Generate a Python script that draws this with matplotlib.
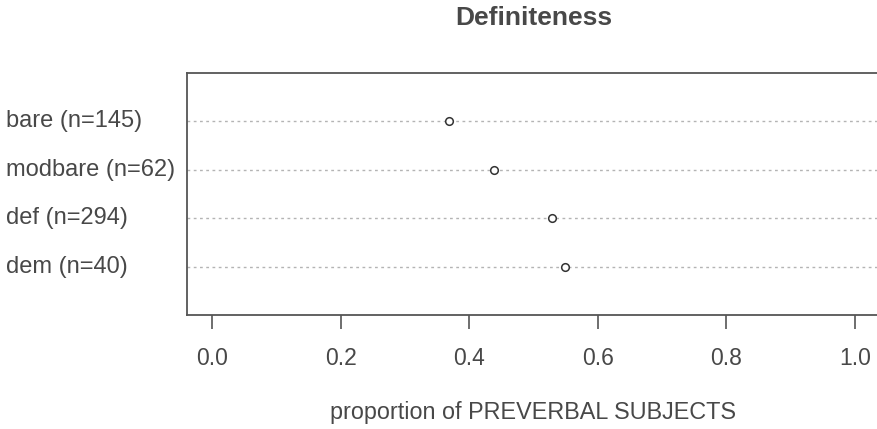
import numpy as np
from matplotlib import pyplot as plt
from matplotlib import transforms

# data (top to bottom)
labels = ["bare (n=145)", "modbare (n=62)", "def (n=294)", "dem (n=40)"]
props = [0.369, 0.439, 0.529, 0.549]
xticks = [0.0, 0.2, 0.4, 0.6, 0.8, 1.0]

plt.rcParams['font.family'] = ['Liberation Sans', 'DejaVu Sans']
txt = '#484848'

fig = plt.figure(figsize=(8.78, 4.29), dpi=100)
ax = fig.add_axes([186.7 / 878, 114 / 429, (880.4 - 186.7) / 878, 242 / 429])

n = len(labels)
ypos = np.arange(n, 0, -1)
for y in ypos:
    ax.axhline(y, color='#b4b4b4', lw=1, ls=(0, (2, 2.5)), zorder=1)
ax.plot(props, ypos, ls='none', marker='o', ms=5.5, mfc='white', mec='#333333', mew=1.1, zorder=3)

ax.set_xlim(-0.04, 1.04)
ax.set_ylim(0, n + 1)
ax.set_yticks([])
ax.set_xticks(xticks)
ax.set_xticklabels(["%.1f" % v for v in xticks])
ax.tick_params(axis='x', length=10, width=1.2, color='#555555', pad=13,
               labelsize=16.5, labelcolor=txt)
for s in ax.spines.values():
    s.set_color('#555555')
    s.set_linewidth(1.3)
ax.spines['right'].set_visible(False)

trans = transforms.blended_transform_factory(fig.transFigure, ax.transData)
for lab, y in zip(labels, ypos):
    ax.text(6 / 878, y, lab, transform=trans, ha='left', va='center',
            fontsize=17, color=txt)

ax.set_xlabel("proportion of PREVERBAL SUBJECTS", fontsize=16.8, color=txt, labelpad=22)
fig.text(533.5 / 878, 1 - 18 / 429, "Definiteness", ha='center', va='center',
         fontsize=19, fontweight='bold', color=txt)

plt.savefig("out.png", dpi=100)
